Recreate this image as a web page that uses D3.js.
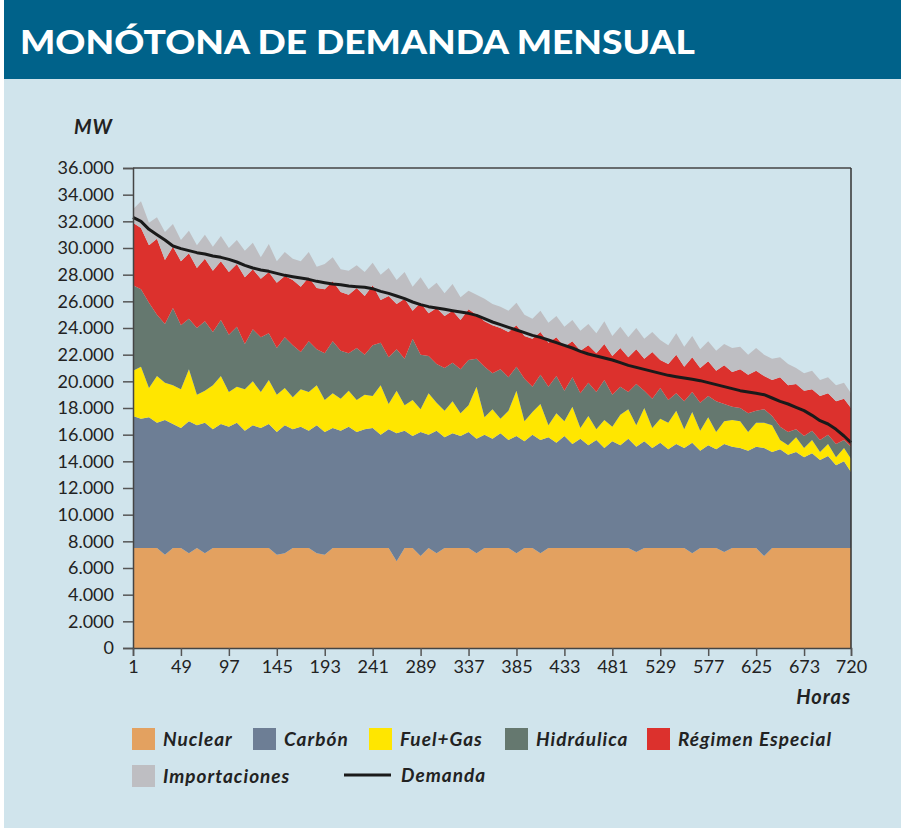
<!DOCTYPE html>
<html>
<head>
<meta charset="utf-8">
<script src="https://cdn.jsdelivr.net/npm/d3@7"></script>
<style>
  body { margin: 0; background: #fff; }
  svg { display: block; font-family: Lato, 'Open Sans', sans-serif; }
</style>
</head>
<body>
<svg id="chart" width="901" height="830"></svg>
<script>
'use strict';

/** DATA: hour samples of the month (every 8 h) and MW per source */
var hours = [1, 9, 17, 25, 33, 41, 49, 57, 65, 73, 81, 89, 97, 105, 113, 121, 129, 137, 145, 153,
    161, 169, 177, 185, 193, 201, 209, 217, 225, 233, 241, 249, 257, 265, 273, 281, 289, 297, 305, 313,
    321, 329, 337, 345, 353, 361, 369, 377, 385, 393, 401, 409, 417, 425, 433, 441, 449, 457, 465, 473,
    481, 489, 497, 505, 513, 521, 529, 537, 545, 553, 561, 569, 577, 585, 593, 601, 609, 617, 625, 633,
    641, 649, 657, 665, 673, 681, 689, 697, 705, 713, 720];

var nuclear = [7500, 7500, 7500, 7500, 7000, 7500, 7500, 7100, 7500, 7100, 7500, 7500, 7500, 7500, 7500, 7500, 7500, 7500, 7000, 7100,
    7500, 7500, 7500, 7100, 7000, 7500, 7500, 7500, 7500, 7500, 7500, 7500, 7500, 6500, 7500, 7500, 6900, 7500, 7100, 7500,
    7500, 7500, 7500, 7100, 7500, 7500, 7500, 7500, 7100, 7500, 7500, 7100, 7500, 7500, 7500, 7500, 7500, 7500, 7500, 7500,
    7500, 7500, 7500, 7200, 7500, 7500, 7500, 7500, 7500, 7500, 7100, 7500, 7500, 7500, 7200, 7500, 7500, 7500, 7500, 6900,
    7500, 7500, 7500, 7500, 7500, 7500, 7500, 7500, 7500, 7500, 7500];

var carbon = [9900, 9700, 9800, 9400, 10100, 9300, 9000, 9900, 9200, 9800, 8900, 9300, 9100, 9400, 8800, 9200, 9000, 9300, 9200, 9600,
    8900, 9100, 8800, 9600, 9200, 9000, 8800, 9100, 8700, 8900, 9000, 8500, 8900, 9600, 8800, 8400, 9300, 8500, 9200, 8300,
    8600, 8400, 8700, 8600, 8500, 8200, 8600, 8100, 8800, 8000, 8500, 8500, 8300, 7900, 8400, 7800, 8200, 7700, 8100, 7500,
    8000, 7700, 8200, 7900, 8000, 7500, 7900, 7400, 7800, 7500, 8300, 7300, 7700, 7400, 8100, 7600, 7500, 7300, 7600, 8100,
    7200, 7400, 7000, 7200, 6800, 7100, 6600, 6900, 6200, 6500, 5700];

var fuelGas = [3400, 3900, 2200, 3500, 2800, 2900, 2900, 3900, 2300, 2400, 3300, 3600, 2600, 2700, 3100, 3300, 2700, 3300, 2800, 2800,
    2400, 2800, 2900, 3000, 2400, 2600, 2400, 2700, 2400, 2600, 2400, 3700, 1900, 3200, 1900, 2700, 1700, 3100, 2100, 2000,
    2400, 1700, 2000, 3900, 1300, 2200, 1100, 2200, 3400, 1500, 1700, 2700, 900, 2200, 1100, 2800, 800, 2200, 800, 2100,
    1100, 2300, 2200, 1600, 2500, 1500, 1800, 2000, 2500, 1400, 2300, 1500, 2100, 1300, 1700, 2000, 2000, 1400, 1800, 1900,
    2000, 700, 700, 1100, 700, 1000, 600, 900, 600, 1000, 1000];

var hidraulica = [6400, 5800, 6400, 4600, 4400, 5800, 4800, 3800, 5000, 5200, 4000, 4200, 4300, 4500, 3400, 3900, 4100, 3500, 3500, 3800,
    3900, 2800, 3800, 2700, 3500, 3900, 3600, 2800, 3900, 3000, 3800, 3200, 3500, 3100, 3500, 4600, 4100, 2800, 2900, 3200,
    2900, 3300, 3400, 2100, 3800, 2700, 3700, 2500, 1800, 3200, 1900, 2200, 2900, 2800, 2300, 2200, 2600, 2500, 2800, 3000,
    2400, 2100, 1300, 3100, 1300, 2200, 2300, 1700, 1300, 2100, 1500, 2100, 1600, 2300, 1300, 1000, 1000, 1400, 900, 1000,
    700, 1000, 1000, 600, 900, 700, 900, 700, 1000, 600, 900];

var regimenEspecial = [4700, 4600, 4300, 5700, 4800, 4600, 4800, 4900, 4500, 4700, 4600, 4400, 4700, 4700, 5000, 4500, 4400, 4600, 4900, 4600,
    4900, 4900, 4800, 4600, 4800, 4500, 4400, 4400, 4500, 4400, 4500, 3200, 4600, 3400, 4500, 2100, 3900, 3200, 4200, 3900,
    3900, 3700, 3800, 3300, 3400, 3600, 3100, 3400, 3100, 3200, 3600, 3200, 3300, 2900, 3300, 2700, 3200, 2800, 2900, 2700,
    2900, 2900, 2600, 2600, 2400, 3500, 2100, 2700, 2900, 2600, 2600, 2600, 2600, 2300, 2900, 2600, 2900, 2900, 3000, 2500,
    2700, 3700, 3500, 3400, 3400, 3100, 3300, 3100, 3200, 3100, 2900];

var importaciones = [1000, 2000, 1700, 1600, 2100, 1700, 1600, 1700, 1700, 1800, 1800, 1900, 1800, 1800, 2000, 2000, 1600, 2100, 1600, 1800,
    1600, 1900, 1900, 1600, 1900, 1800, 1700, 1800, 1700, 1800, 1700, 1900, 2100, 1800, 2000, 1800, 1900, 1800, 1900, 1700,
    2000, 1700, 1400, 1500, 1700, 1600, 1600, 1600, 1700, 1600, 1500, 1600, 1500, 1600, 1500, 1600, 1500, 1600, 1500, 1700,
    1500, 1600, 1500, 1600, 1500, 1500, 1500, 1400, 1600, 1500, 1600, 1400, 1500, 1500, 1600, 1800, 1700, 1500, 1700, 1600,
    1600, 1500, 1600, 1200, 1300, 1400, 1200, 1200, 1200, 1200, 1100];

var demanda = [32300, 32000, 31400, 31000, 30600, 30150, 29950, 29800, 29650, 29550, 29400, 29300, 29150, 28950, 28700, 28500, 28350, 28250, 28100, 27950,
    27850, 27750, 27650, 27500, 27400, 27300, 27250, 27150, 27100, 27050, 26950, 26750, 26600, 26400, 26200, 25950, 25750, 25600, 25500, 25400,
    25300, 25200, 25100, 24950, 24700, 24450, 24250, 24050, 23850, 23650, 23450, 23300, 23100, 22900, 22700, 22500, 22250, 22050, 21900, 21750,
    21600, 21400, 21200, 21050, 20900, 20750, 20600, 20450, 20350, 20250, 20150, 20050, 19900, 19750, 19600, 19450, 19300, 19200, 19100, 19000,
    18750, 18500, 18300, 18050, 17800, 17450, 17050, 16800, 16400, 15900, 15400];

var seriesKeys = ['nuclear', 'carbon', 'fuelGas', 'hidraulica', 'regimenEspecial', 'importaciones'];
var seriesNames = ['Nuclear', 'Carbón', 'Fuel+Gas', 'Hidráulica', 'Régimen Especial', 'Importaciones'];
var seriesColors = ['#e3a160', '#6d7e95', '#ffe600', '#65786f', '#dc312d', '#bebec2'];

var xTicks = [1, 49, 97, 145, 193, 241, 289, 337, 385, 433, 481, 529, 577, 625, 673, 720];
var yTicks = [0, 2000, 4000, 6000, 8000, 10000, 12000, 14000, 16000, 18000, 20000, 22000, 24000, 26000, 28000, 30000, 32000, 34000, 36000];

/** build the table for d3.stack */
var table = hours.map(function(h, i) {
    return {
        hour: h,
        nuclear: nuclear[i],
        carbon: carbon[i],
        fuelGas: fuelGas[i],
        hidraulica: hidraulica[i],
        regimenEspecial: regimenEspecial[i],
        importaciones: importaciones[i],
        demanda: demanda[i]
    };
});

var svg = d3.select('#chart');

/* page background + header band */
svg.append('rect').attr('x', 4).attr('y', 0).attr('width', 897).attr('height', 828).attr('fill', '#d0e4ec');
svg.append('rect').attr('x', 4).attr('y', 0).attr('width', 897).attr('height', 79).attr('fill', '#00628a');
svg.append('text')
    .attr('x', 20)
    .attr('y', 54)
    .attr('fill', '#fff')
    .attr('font-size', 33)
    .attr('font-weight', 900)
    .attr('textLength', 675)
    .attr('lengthAdjust', 'spacingAndGlyphs')
    .text('MONÓTONA DE DEMANDA MENSUAL');

var plotL = 133, plotR = 851, plotT = 168, plotB = 648;

var x = d3.scaleLinear().domain([1, 720]).range([plotL, plotR]);
var y = d3.scaleLinear().domain([0, 36000]).range([plotB, plotT]);

var stack = d3.stack().keys(seriesKeys);
var layers = stack(table);

var area = d3.area()
    .x(function(d) { return x(d.data.hour); })
    .y0(function(d) { return y(d[0]); })
    .y1(function(d) { return y(d[1]); });

svg.append('g').selectAll('path')
    .data(layers)
    .enter()
    .append('path')
    .attr('d', area)
    .attr('fill', function(d, i) { return seriesColors[i]; });

var line = d3.line()
    .x(function(d) { return x(d.hour); })
    .y(function(d) { return y(d.demanda); });

svg.append('path')
    .datum(table)
    .attr('d', line)
    .attr('fill', 'none')
    .attr('stroke', '#1a1a1a')
    .attr('stroke-width', 3)
    .attr('stroke-linejoin', 'round');

/* frame: top + right border */
svg.append('line').attr('x1', plotL).attr('x2', plotR).attr('y1', plotT).attr('y2', plotT)
    .attr('stroke', '#444').attr('stroke-width', 1.3);
svg.append('line').attr('x1', plotR).attr('x2', plotR).attr('y1', plotT).attr('y2', plotB)
    .attr('stroke', '#333').attr('stroke-width', 1.5);

/* axes */
var esLocale = d3.formatLocale({ decimal: ',', thousands: '.', grouping: [3], currency: ['', ''] });
var fmt = esLocale.format(',');

var yAxis = svg.append('g')
    .attr('transform', 'translate(' + plotL + ',0)')
    .call(d3.axisLeft(y).tickValues(yTicks).tickFormat(fmt).tickSize(10).tickPadding(9));

var xAxis = svg.append('g')
    .attr('transform', 'translate(0,' + plotB + ')')
    .call(d3.axisBottom(x).tickValues(xTicks).tickFormat(d3.format('d')).tickSize(8).tickPadding(4));

[yAxis, xAxis].forEach(function(g) {
    g.select('.domain').attr('stroke', '#444').attr('stroke-width', 1.5);
    g.selectAll('.tick line').attr('stroke', '#555').attr('stroke-width', 1.5);
    g.selectAll('.tick text')
        .attr('font-family', 'Lato, sans-serif')
        .attr('font-size', 18)
        .attr('fill', '#222');
});

/* axis titles */
svg.append('text')
    .attr('x', 74).attr('y', 134)
    .attr('font-size', 20).attr('letter-spacing', 1)
    .attr('font-weight', 'bold').attr('font-style', 'italic').attr('fill', '#222')
    .text('MW');
svg.append('text')
    .attr('x', plotR).attr('y', 704)
    .attr('text-anchor', 'end')
    .attr('font-size', 20).attr('letter-spacing', 1)
    .attr('font-weight', 'bold').attr('font-style', 'italic').attr('fill', '#222')
    .text('Horas');

/* legend */
var legendPos = [[132, 728], [253, 728], [369, 728], [505, 728], [647, 728], [132, 765]];

var legend = svg.append('g').selectAll('g')
    .data(seriesNames)
    .enter()
    .append('g')
    .attr('transform', function(d, i) {
        return 'translate(' + legendPos[i][0] + ',' + legendPos[i][1] + ')';
    });

legend.append('rect')
    .attr('width', 23)
    .attr('height', 22)
    .attr('fill', function(d, i) { return seriesColors[i]; });

legend.append('text')
    .attr('x', 31)
    .attr('y', 18)
    .attr('font-size', 19)
    .attr('letter-spacing', 1)
    .attr('font-weight', 'bold')
    .attr('font-style', 'italic')
    .attr('fill', '#222')
    .text(function(d) { return d; });

svg.append('line')
    .attr('x1', 344).attr('x2', 391).attr('y1', 775).attr('y2', 775)
    .attr('stroke', '#1a1a1a').attr('stroke-width', 3);
svg.append('text')
    .attr('x', 401).attr('y', 782)
    .attr('font-size', 19).attr('letter-spacing', 1)
    .attr('font-weight', 'bold').attr('font-style', 'italic').attr('fill', '#222')
    .text('Demanda');
</script>
</body>
</html>
